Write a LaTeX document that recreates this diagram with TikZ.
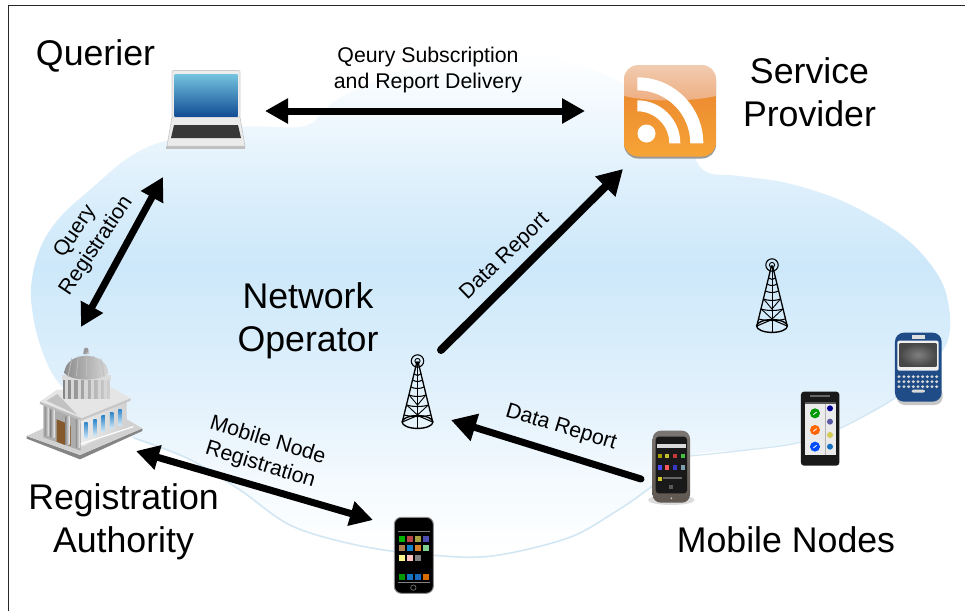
\documentclass[tikz,border=0pt]{standalone}
\usepackage{fontspec}
\setmainfont{Liberation Sans}
\usetikzlibrary{arrows.meta,calc}
\definecolor{cA}{HTML}{F4FAFE}
\definecolor{cB}{HTML}{E4F2FC}
\definecolor{cC}{HTML}{D8EDFB}
\definecolor{cD}{HTML}{CDE8FA}
\definecolor{cE}{HTML}{DAEEFB}
\definecolor{cF}{HTML}{EEF7FD}
\definecolor{edgeblue}{HTML}{D2E7F3}
\definecolor{scrA}{HTML}{74C4E0}
\definecolor{scrB}{HTML}{2573B0}
\definecolor{scrC}{HTML}{144E96}
\definecolor{orA}{HTML}{EC8A30}
\definecolor{orB}{HTML}{F6A436}
\definecolor{orC}{HTML}{F1CBB0}
\definecolor{orD}{HTML}{EEAE80}
\definecolor{winA}{HTML}{2F86C9}
\definecolor{winB}{HTML}{CFE7F7}
\definecolor{berryblue}{HTML}{1F4C86}
\definecolor{nexusA}{HTML}{7B7672}
\definecolor{nexusB}{HTML}{5F5750}
\pgfdeclareverticalshading{cloudshade}{100bp}{
 color(0bp)=(white); color(25.7bp)=(white); color(32.5bp)=(cA); color(40bp)=(cB); color(46.5bp)=(cC);
 color(54bp)=(cD); color(60.5bp)=(cE); color(68bp)=(cF); color(75bp)=(white); color(100bp)=(white)}
\tikzset{
 bigtxt/.style={font=\fontsize{35.7}{43}\selectfont,align=center,inner sep=0pt,text=black},
 smalltxt/.style={font=\fontsize{21.3}{25.5}\selectfont,align=center,inner sep=0pt,text=black},
 linkline/.style={line width=7pt,draw=black},
 twohead/.style={linkline,{Triangle[length=23pt,width=24pt]}-{Triangle[length=23pt,width=24pt]}},
 onehead/.style={line width=8pt,draw=black,line cap=round,-{Triangle[length=25pt,width=27pt]}},
 iconbox/.style={inner sep=0pt,minimum width=#1,minimum height=#1},
 pics/radiomast/.style={code={
  \draw[line width=1.1pt,black] (0,0) circle (6.2);
  \draw[line width=.9pt,black] (0,0) circle (2.6);
  \draw[line width=1.3pt,black] (-15.2,61) -- (-.6,1) -- (.6,1) -- (15.2,61);
  \draw[line width=1pt,black] (0,2) -- (0,67);
  \foreach \yy/\hw in {13/3.2,19/4.7,26/6.4,34/8.4,44/10.8,54/13.3} {
   \draw[line width=1.05pt,black] (-\hw,\yy) .. controls ({-\hw/2},\yy+2) and ({\hw/2},\yy+2) .. (\hw,\yy);}
  \draw[line width=.9pt,black] (-8.4,34) -- (0,44) -- (8.4,34) (-10.8,44) -- (0,54) -- (10.8,44);
  \draw[line width=1.4pt,black] (0,61) ellipse (15.4 and 6.4);
  \draw[line width=1.1pt,black] (-15.2,61) -- (0,54.5) -- (15.2,61);
 }}
}
\newcommand{\cloudpts}{(31,298)(34,268)(44,240)(62,215)(92,188)(128,158)(165,141)(240,127)(305,126)(332,103)(370,83)(420,64)(475,54)(530,53)(565,61)(622,83)(680,130)(703,170)(740,176)(787,183)(840,200)(890,227)(923,255)(946,293)(946,345)(897,397)(843,427)(797,443)(747,450)(690,456)(647,490)(615,512)(568,538)(492,556)(430,555)(361,546)(292,526)(240,490)(189,459)(134,438)(88,410)(55,378)(38,338)}
\begin{document}
\begin{tikzpicture}[x=1pt,y=-1pt]
\useasboundingbox (0,0) rectangle (965,611);
\fill[white] (0,0) rectangle (965,611);
% cloud
\shade[shading=cloudshade] plot[smooth cycle,tension=.55] coordinates {\cloudpts};
\draw[edgeblue,line width=1.6pt,line cap=round] plot[smooth,tension=.55] coordinates {(690,456)(647,490)(615,512)(568,538)(492,556)(430,555)(361,546)(292,526)(240,490)(189,459)(134,438)};
\draw[edgeblue,line width=1.2pt,line cap=round] plot[smooth,tension=.55] coordinates {(897,397)(843,427)(797,443)(747,450)(690,456)};
% frame
\draw[black!85,line width=1pt] (8,611) -- (8,5) -- (965,5);

% laptop
\node[iconbox=78pt] (laptop) at (206,109) {};
\begin{scope}
 \fill[black!25] (166,146) -- (245,146) -- (245,149) -- (166,149) -- cycle;
 \fill[black!8,draw=black!25,line width=.5pt] (172,117) -- (240,117) -- (245,146) -- (167,146) -- cycle;
 \fill[black!78] (174,125) -- (238,125) -- (241,138) -- (171,138) -- cycle;
 \fill[black!7,draw=black!20,line width=.6pt,rounded corners=1pt] (172,70.5) rectangle (240,117);
 \shade[top color=scrA,middle color=scrB,bottom color=scrC] (174.5,74) rectangle (237.5,116);
\end{scope}

% rss icon
\node[iconbox=92pt] (rss) at (670,111) {};
\begin{scope}
 \fill[black!40,rounded corners=14pt] (624,67) rectangle (716,158.5);
 \begin{scope}
  \clip[rounded corners=14pt] (624,65) rectangle (716,156.5);
  \shade[top color=orA,bottom color=orB] (624,90) rectangle (716,157);
  \shade[top color=orC,bottom color=orD] (624,65) -- (716,65) -- (716,96) .. controls (690,102) and (650,102) .. (624,96) -- cycle;
 \end{scope}
 \fill[white] (637.3,77.3) arc[start angle=270,end angle=360,radius=66] -- (690.3,143.3) arc[start angle=360,end angle=270,radius=53] -- cycle;
 \fill[white] (637.3,100.3) arc[start angle=270,end angle=360,radius=43] -- (669.3,143.3) arc[start angle=360,end angle=270,radius=32] -- cycle;
 \fill[white] (646.5,133.5) circle (9);
\end{scope}

% building
\node[iconbox=110pt] (capitol) at (85,405) {};
\begin{scope}[shift={(0,330)},x=.3333pt,y=-.3333pt]
 \fill[black!48] (80,318) -- (240,375) -- (427,295) -- (427,303) -- (240,388) -- (80,326) -- cycle;
 \fill[black!18] (80,318) -- (130,295) -- (370,262) -- (427,295) -- (240,375) -- cycle;
 % right wall
 \shade[left color=black!8,right color=black!18] (245,262) -- (380,205) -- (380,290) -- (245,350) -- cycle;
 \foreach \wx/\wy in {253/305,280/296,305/285,330/275,355/265}
  \shade[top color=winA,bottom color=winB] (\wx,\wy-28) rectangle (\wx+10,\wy+20);
 \draw[white,line width=1.2pt] (232,345) -- (400,290);
 % front
 \fill[black!32] (130,225) -- (242,268) -- (242,362) -- (130,322) -- cycle;
 \fill[brown!70!black] (170,268) -- (195,278) -- (195,345) -- (170,335) -- cycle;
 \fill[brown!60!orange!65!black] (205,285) -- (212,288) -- (212,348) -- (205,345) -- cycle;
 \foreach \cx/\ctop in {135/232,152/238,197/258,228/268}
  \shade[left color=black!42,right color=black!6] (\cx,\ctop) rectangle (\cx+12,\ctop+86);
 % roof
 \fill[black!10] (120,215) -- (245,265) -- (392,205) -- (330,170) -- (170,180) -- cycle;
 \fill[black!26] (120,215) -- (245,265) -- (245,272) -- (120,222) -- cycle;
 \fill[black!22] (245,265) -- (392,205) -- (392,212) -- (245,272) -- cycle;
 \fill[black!24] (140,212) -- (172,192) -- (232,255) -- cycle;
 % drum and dome
 \shade[left color=black!48,right color=black!18] (190,140) rectangle (330,205);
 \foreach \dx in {200,218,238,258,278,298,316}
  \fill[black!16] (\dx-5,150) rectangle (\dx+5,208);
 \fill[black!14] (186,135) rectangle (333,150);
 \shade[left color=black!45,right color=black!16] (193,130) .. controls (195,60) and (322,60) .. (325,130) .. controls (300,155) and (218,155) .. cycle;
 \foreach \dx/\dy in {215/85,235/78,258/75,280/78,302/85}
  \draw[black!26,line width=.8pt] (\dx,\dy) -- ({\dx-(258-\dx)*.25},140);
 \shade[left color=black!45,right color=black!18] (250,72) -- (252,58) -- (265,58) -- (268,72) -- cycle;
 \fill[black!40] (258.5,60) circle (7);
\end{scope}

% towers
\node[iconbox=30pt] (towerA) at (417.5,392) {};
\node[iconbox=30pt] (towerB) at (772,296) {};
\pic at (417.5,361) {radiomast};
\pic at (772,265) {radiomast};

% iPhone
\node[iconbox=40pt] (iphone) at (413.5,555) {};
\begin{scope}[shift={(370,340)},x=.3333pt,y=-.3333pt]
 \fill[black,draw=black!45,line width=1pt,rounded corners=7pt] (73,532) rectangle (190,760);
 \foreach \ix/\iy/\ic in {96/596/green!70!black,120/596/red!45!gray,144/596/yellow!60!black,168/596/blue!40!gray,
  96/623/brown!75!gray,120/623/cyan!65!blue,144/623/orange!70!gray,168/623/cyan!50!yellow,
  96/653/yellow!45!white,120/653/white!75!red,144/653/black!50,
  96/711/green!60!black,120/711/cyan!55!blue,144/711/cyan!45!blue,168/711/orange!85!black}
  \fill[\ic] (\ix-9,\iy-9) rectangle (\ix+9,\iy+9);
 \draw[black!60,line width=.8pt] (130,743) circle (8);
 \draw[black!50,line width=.6pt] (85,575) -- (180,575) (85,728) -- (180,728);
\end{scope}

% Nexus phone
\node[iconbox=40pt] (nexus) at (671,466) {};
\begin{scope}[shift={(630,320)},x=.3333pt,y=-.3333pt]
 \fill[black!14] (124,540) ellipse (70 and 15);
 \shade[top color=nexusA,bottom color=nexusB,rounded corners=8pt] (68,332) rectangle (180,548);
 \fill[black!90,rounded corners=3pt] (77,350) rectangle (171,520);
 \fill[black!15] (80,371) rectangle (167,385);
 \foreach \ix/\ic in {90/olive!80!yellow,112/yellow!75!black,135/red!55!gray,158/green!50!gray}
  \fill[\ic] (\ix-6,403) rectangle (\ix+6,415);
 \foreach \ix/\ic in {90/blue!70!white,112/red!65!white,135/blue!55!gray,158/cyan!30!gray}
  \fill[\ic] (\ix-6,436) rectangle (\ix+6,449);
 \fill[yellow!80!black] (84,472) rectangle (96,484);
 \fill[black!60] (100,472) rectangle (155,478);
 \fill[black!65] (118,496) rectangle (130,506);
 \fill[white!80!black] (124,535) circle (3);
\end{scope}

% Garmin phone
\node[iconbox=40pt] (garmin) at (820,429) {};
\begin{scope}[shift={(630,320)},x=.3333pt,y=-.3333pt]
 \fill[black!90,rounded corners=3pt] (513,215) rectangle (628,437);
 \fill[black!60] (540,226) rectangle (600,231);
 \fill[black!8] (525,245) rectangle (617,405);
 \fill[black!65] (525,245) rectangle (617,252);
 \fill[black!30] (585,252) rectangle (589,405);
 \foreach \iy/\ic in {280/green!60!black,330/orange!80!red,380/blue!70!cyan} {
  \fill[\ic] (555,\iy) circle (15);
  \draw[white,line width=.8pt] (550,\iy+4) -- (560,\iy-4);
 }
 \foreach \iy/\ic in {265/blue!60!black,305/blue!30!gray,345/yellow!60!gray,380/cyan!50!blue}
  \fill[\ic] (600,\iy) circle (9);
\end{scope}

% BlackBerry
\node[iconbox=48pt] (berry) at (918.5,368) {};
\begin{scope}[shift={(630,320)},x=.3333pt,y=-.3333pt]
 \fill[black!22,rounded corners=8pt] (800,200) rectangle (938,255);
 \fill[berryblue,rounded corners=9pt] (795,38) rectangle (935,245);
 \fill[black!6,rounded corners=2pt] (802,62) rectangle (926,152);
 \shade[inner color=black!50,outer color=black!72] (809,70) rectangle (919,139);
 \fill[white!75!gray] (845,46) rectangle (885,56);
 \foreach \ky in {170,185,200}
  \foreach \kx in {807,822,836,850,864,878,892,906,920}
   \fill[black!15] (\kx,\ky) ellipse (5 and 4.5);
 \fill[black!15,rounded corners=2pt] (845,209) rectangle (885,218);
\end{scope}

% link ends
\coordinate (laptopE) at (265,111);
\coordinate (rssW) at (585,111);
\coordinate (laptopS) at (163,177);
\coordinate (capitolN) at (81,327);
\coordinate (capitolE) at (136,451);
\coordinate (iphoneW) at (373,520);
\coordinate (towerAne) at (441,350);
\coordinate (rssSW) at (623,169);
\coordinate (nexusW) at (641,479);
\coordinate (towerAe) at (451,420);

\draw[twohead] (laptopE) -- (rssW);
\draw[twohead] (laptopS) -- (capitolN);
\draw[twohead] (capitolE) -- (iphoneW);
\draw[onehead] (towerAne) -- (rssSW);
\draw[onehead,line width=7pt] (nexusW) -- (towerAe);

% labels
\node[bigtxt] (tQuerier) at (95.5,56) {Querier};
\node[bigtxt] (tService) at (809.5,92.5) {Service\\Provider};
\node[bigtxt] (tNetwork) at (308,321) {Network\\Operator};
\node[bigtxt] (tRegAuth) at (123.5,521.5) {Registration\\Authority};
\node[bigtxt] (tMobile) at (786,540) {Mobile Nodes};
\node[smalltxt] (tSub) at (428,70) {Qeury Subscription\\and Report Delivery};
\node[smalltxt,rotate=56] (tQreg) at (86,239) {Query\\Registration};
\node[smalltxt,rotate=44] (tDr1) at (505,257) {Data Report};
\node[smalltxt,rotate=-17] (tDr2) at (561,428) {Data Report};
\node[smalltxt,rotate=-17] (tMreg) at (264,453) {Mobile Node\\Registration};
\end{tikzpicture}
\end{document}
